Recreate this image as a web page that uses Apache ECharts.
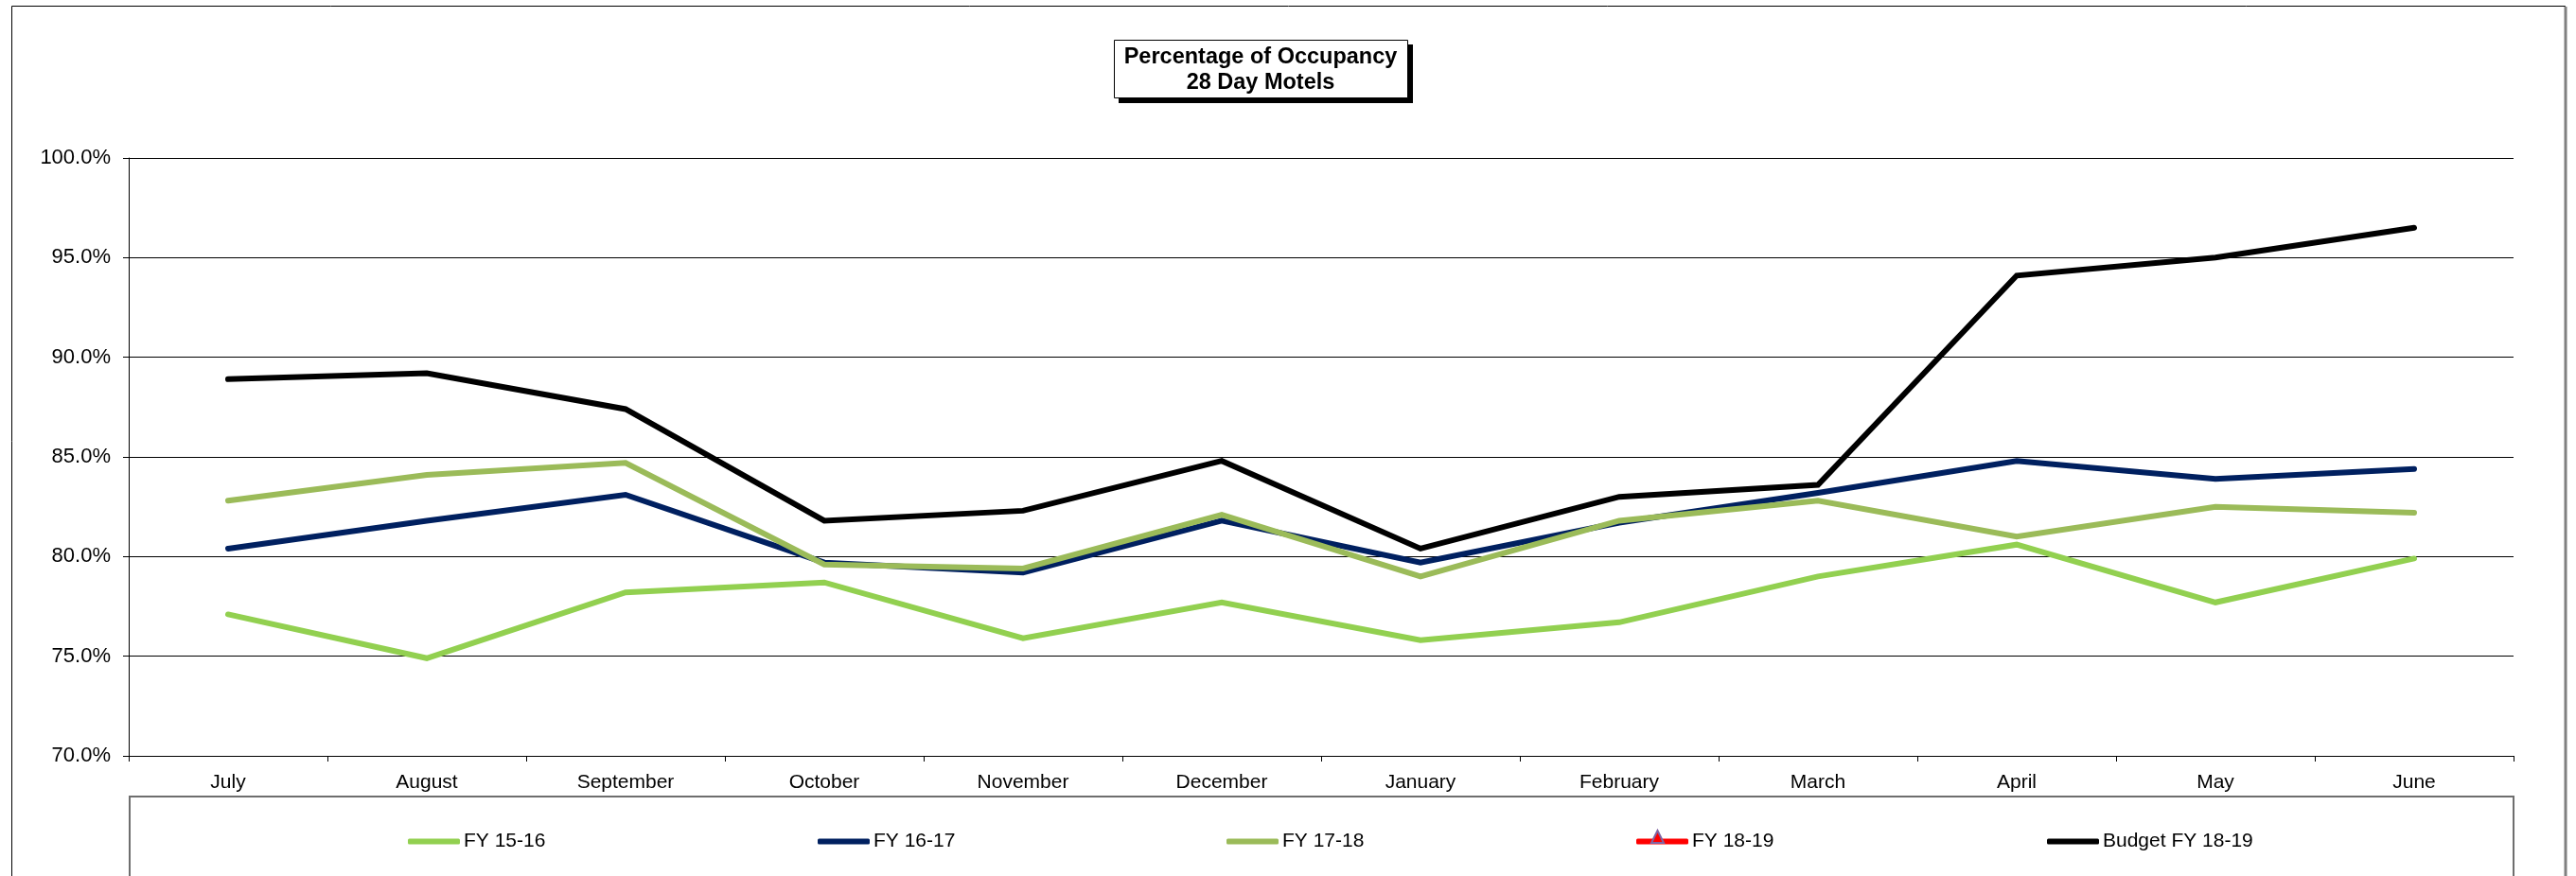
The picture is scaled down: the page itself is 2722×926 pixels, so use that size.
<!DOCTYPE html>
<html>
<head>
<meta charset="utf-8">
<script src="https://cdn.jsdelivr.net/npm/echarts@6/dist/echarts.min.js"></script>
<style>
  html, body { margin: 0; padding: 0; background: #ffffff; }
  #chart { width: 2722px; height: 926px; }
</style>
</head>
<body>
<div id="chart"></div>
<script>
// ---- data ----
const months = ['July', 'August', 'September', 'October', 'November', 'December',
                'January', 'February', 'March', 'April', 'May', 'June'];
const seriesNames = ['FY 15-16', 'FY 16-17', 'FY 17-18', 'FY 18-19', 'Budget FY 18-19'];
const fy1516 = [77.1, 74.9, 78.2, 78.7, 75.9, 77.7, 75.8, 76.7, 79.0, 80.6, 77.7, 79.9];
const fy1617 = [80.4, 81.8, 83.1, 79.7, 79.2, 81.8, 79.7, 81.7, 83.2, 84.8, 83.9, 84.4];
const fy1718 = [82.8, 84.1, 84.7, 79.6, 79.4, 82.1, 79.0, 81.8, 82.8, 81.0, 82.5, 82.2];
const fy1819 = [null, null, null, null, null, null, null, null, null, null, null, null];
const budget1819 = [88.9, 89.2, 87.4, 81.8, 82.3, 84.8, 80.4, 83.0, 83.6, 94.1, 95.0, 96.5];
const yMin = 70, yMax = 100, yStep = 5;
const titleLines = ['Percentage of Occupancy', '28 Day Motels'];

// ---- chart ----
const FONT = '"Liberation Sans", Arial, sans-serif';
const chart = echarts.init(document.getElementById('chart'), null, { renderer: 'canvas' });

const colors = ['#92D050', '#002060', '#9BBB59', '#FF0000', '#000000'];
const seriesData = [fy1516, fy1617, fy1718, fy1819, budget1819];

const series = seriesNames.map((name, i) => ({
  name: name,
  type: 'line',
  data: seriesData[i],
  symbol: 'none',
  showSymbol: false,
  smooth: false,
  color: colors[i],
  lineStyle: { color: colors[i], width: 6, cap: 'round', join: 'miter' },
  emphasis: { disabled: true },
  animation: false,
  z: 2 + i
}));

const legendLefts = [426, 859, 1291, 1724, 2158];
const legends = seriesNames.map((name, i) => ({
  data: [{ name: name, icon: 'roundRect', itemStyle: { color: colors[i] } }],
  left: legendLefts[i],
  top: 874,
  orient: 'horizontal',
  itemWidth: 55,
  itemHeight: 6,
  selectedMode: false,
  textStyle: { fontFamily: FONT, fontSize: 21, color: '#000', padding: [0, 0, 0, -1] }
}));

// triangle marker of the FY 18-19 legend key
const triX = legendLefts[3] + 27.5;

const option = {
  backgroundColor: '#ffffff',
  animation: false,
  grid: { left: 136, right: 66, top: 167, bottom: 127, containLabel: false },
  legend: legends,
  xAxis: {
    type: 'category',
    data: months,
    boundaryGap: true,
    axisLine: { show: true, lineStyle: { color: '#000', width: 1 } },
    axisTick: { show: true, length: 6, inside: false, alignWithLabel: false, interval: 0, lineStyle: { color: '#000' } },
    axisLabel: { interval: 0, fontFamily: FONT, fontSize: 21, color: '#000', margin: 18 },
    splitLine: { show: false }
  },
  yAxis: {
    type: 'value',
    min: yMin,
    max: yMax,
    interval: yStep,
    axisLine: { show: true, lineStyle: { color: '#000', width: 1 } },
    axisTick: { show: true, length: 6, inside: false, lineStyle: { color: '#000' } },
    axisLabel: {
      fontFamily: FONT, fontSize: 22, color: '#000', margin: 19,
      formatter: v => v.toFixed(1) + '%'
    },
    splitLine: { show: true, lineStyle: { color: '#000', width: 1 } }
  },
  series: series,
  graphic: [
    // outer chart frame
    { type: 'rect', z: 0, silent: true,
      shape: { x: 12.5, y: 6.5, width: 2698, height: 960 },
      style: { fill: 'none', stroke: '#000', lineWidth: 1 } },
    { type: 'line', z: 0, silent: true,
      shape: { x1: 2711, y1: 7, x2: 2711, y2: 926 },
      style: { stroke: '#808080', lineWidth: 3 } },
    // legend frame
    { type: 'rect', z: 0, silent: true,
      shape: { x: 137, y: 842, width: 2519, height: 200 },
      style: { fill: 'none', stroke: '#6e6e6e', lineWidth: 2 } },
    // FY 18-19 legend marker
    { type: 'polygon', z: 50, silent: true,
      shape: { points: [[triX, 878], [triX - 6.5, 891], [triX + 6.5, 891]] },
      style: { fill: '#FF0000', stroke: '#8064A2', lineWidth: 2 } },
    // title box shadow and box
    { type: 'rect', z: 20, silent: true,
      shape: { x: 1182, y: 47, width: 311, height: 62 },
      style: { fill: '#000' } },
    { type: 'rect', z: 21, silent: true,
      shape: { x: 1177.5, y: 42.5, width: 310, height: 61 },
      style: { fill: '#fff', stroke: '#000', lineWidth: 1 } },
    { type: 'text', z: 22, silent: true,
      x: 1332, y: 74,
      style: {
        text: titleLines.join('\n'),
        fontFamily: FONT, fontSize: 23.5, fontWeight: 'bold', fill: '#000',
        align: 'center', verticalAlign: 'middle', lineHeight: 27
      } }
  ]
};
chart.setOption(option);
</script>
</body>
</html>
